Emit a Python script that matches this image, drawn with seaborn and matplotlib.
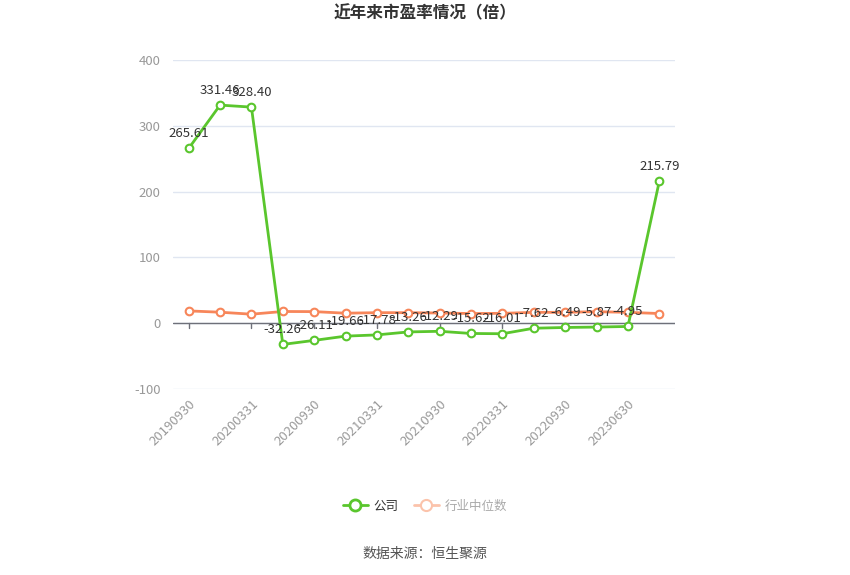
import numpy as np
import pandas as pd
import matplotlib
matplotlib.use("Agg")
import matplotlib.pyplot as plt
from matplotlib.lines import Line2D
import seaborn as sns

dates = ["20190930", "20191231", "20200331", "20200630", "20200930", "20201231",
         "20210331", "20210630", "20210930", "20211231", "20220331", "20220630",
         "20220930", "20221231", "20230630", "20231010"]
company = [265.61, 331.46, 328.40, -32.26, -26.11, -19.66, -17.78, -13.26,
           -12.29, -15.62, -16.01, -7.62, -6.49, -5.87, -4.95, 215.79]
industry = [18.7, 16.7, 13.7, 17.8, 17.6, 15.2, 16.0, 16.0,
            15.5, 14.7, 15.0, 16.5, 16.5, 17.5, 16.5, 14.7]
shown_ticks = ["20190930", "20200331", "20200930", "20210331", "20210930",
               "20220331", "20220930", "20230630"]

green = "#5ac62d"
orange = "#f7865a"

df = pd.DataFrame({"idx": np.arange(len(dates)), "date": dates,
                   "company": company, "industry": industry})

sns.set_style("white")
plt.rcParams['font.family'] = ['Noto Sans CJK SC', 'DejaVu Sans']
plt.rcParams['axes.unicode_minus'] = False

fig = plt.figure(figsize=(8.5, 5.75), dpi=100)
ax = fig.add_axes([173 / 850, 1 - 389 / 575, (675 - 173) / 850, (389 - 60) / 575])

sns.lineplot(data=df, x="idx", y="industry", ax=ax, color=orange, linewidth=2,
             marker="o", markersize=5.5, markerfacecolor="white",
             markeredgecolor=orange, markeredgewidth=1.5, zorder=3)
sns.lineplot(data=df, x="idx", y="company", ax=ax, color=green, linewidth=2,
             marker="o", markersize=5.5, markerfacecolor="white",
             markeredgecolor=green, markeredgewidth=1.5, zorder=4)

for i, v in enumerate(company):
    ax.annotate(f"{v:.2f}", (i, v), xytext=(0, 6), textcoords="offset points",
                ha="center", va="bottom", fontsize=9.5, color="#333333", zorder=5)

ax.set_xlim(-0.5, len(dates) - 0.5)
ax.set_ylim(-100, 400)
ax.set_yticks([-100, 0, 100, 200, 300, 400])
ax.yaxis.grid(True, color="#e0e6f1", linewidth=1)
ax.set_axisbelow(True)
ax.axhline(0, color="#6e7079", linewidth=1, zorder=2)

tick_pos = [dates.index(d) for d in shown_ticks]
ax.set_xticks(tick_pos)
ax.set_xticklabels(shown_ticks, rotation=45, ha="right", rotation_mode="anchor")
ax.tick_params(axis="x", labelcolor="#999999", labelsize=9.5, length=0, pad=6)
ax.tick_params(axis="y", labelcolor="#999999", labelsize=9.5, length=0, pad=9)
for s in ax.spines.values():
    s.set_visible(False)
ax.set_xlabel("")
ax.set_ylabel("")

# tick marks sit on the zero line
for p in tick_pos:
    ax.plot([p, p], [0, -7], color="#6e7079", linewidth=1, zorder=2, clip_on=False)

fig.text(0.5, 1 - 13 / 575, "近年来市盈率情况（倍）", ha="center", va="center",
         fontsize=12, fontweight="bold", color="#333333")

handles = [
    Line2D([0], [0], color=green, linewidth=2, marker="o", markersize=8,
           markerfacecolor="white", markeredgewidth=2),
    Line2D([0], [0], color="#fbc3ab", linewidth=2, marker="o", markersize=8,
           markerfacecolor="white", markeredgewidth=1.5),
]
leg = fig.legend(handles, ["公司", "行业中位数"], loc="center",
                 bbox_to_anchor=(0.5, 1 - 506 / 575), ncol=2, frameon=False,
                 fontsize=9, handlelength=2, columnspacing=1.2, handletextpad=0.5)
leg.get_texts()[0].set_color("#333333")
leg.get_texts()[1].set_color("#aaaaaa")

fig.text(0.5, 1 - 554 / 575, "数据来源：恒生聚源", ha="center", va="center",
         fontsize=10, color="#555555")

fig.savefig("out.png", dpi=100)
